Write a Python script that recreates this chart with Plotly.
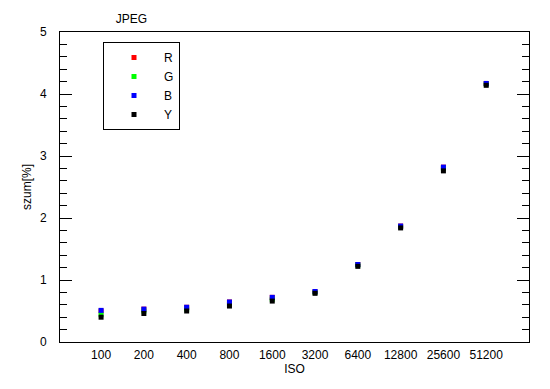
import plotly.graph_objects as go

iso_labels = ["100", "200", "400", "800", "1600", "3200", "6400", "12800", "25600", "51200"]
R = [0.50, 0.53, 0.56, 0.645, 0.72, 0.81, 1.25, 1.87, 2.82, 4.17]
G = [0.44, 0.50, 0.53, 0.61, 0.69, 0.80, 1.24, 1.86, 2.80, 4.16]
B = [0.51, 0.53, 0.56, 0.645, 0.72, 0.815, 1.25, 1.87, 2.82, 4.17]
Y = [0.40, 0.46, 0.50, 0.58, 0.66, 0.785, 1.22, 1.84, 2.76, 4.14]

series = [("R", R, "#ff0000"), ("G", G, "#00ff00"), ("B", B, "#0000ff"), ("Y", Y, "#000000")]
xs = list(range(len(iso_labels)))

fig = go.Figure()
for name, vals, col in series:
    fig.add_trace(go.Scatter(x=xs, y=vals, mode="markers", name=name,
                             marker=dict(symbol="square", size=5, color=col, line=dict(width=0))))

# page body has an 8px default margin, so the figure is sized/offset to compensate
W, H, OFF = 542, 381, 8
font = dict(family="Liberation Sans, Arial, sans-serif", size=12, color="black")
fig.update_layout(
    width=W, height=H,
    margin=dict(l=60 - OFF, r=21, t=32 - OFF, b=47),
    plot_bgcolor="white", paper_bgcolor="white",
    font=font,
    title=dict(text="JPEG", x=(131.5 - OFF) / W, xanchor="center", xref="container",
               y=1 - (18.5 - OFF) / H, yanchor="middle", yref="container", font=font),
    showlegend=True,
    legend=dict(x=(103 - 60) / 469, y=(342 - 86) / 310, xanchor="left", yanchor="middle",
                bordercolor="black", borderwidth=1, bgcolor="white",
                font=font, itemwidth=50, entrywidth=70, tracegroupgap=0),
    xaxis=dict(range=[-0.96, 10], tickmode="array", tickvals=xs, ticktext=iso_labels,
               showgrid=False, zeroline=False, showline=True, linecolor="black", linewidth=1,
               mirror=True, ticks="", automargin=False, ticklabelstandoff=2,
               title=dict(text="ISO", standoff=3, font=font)),
    yaxis=dict(range=[0, 5], dtick=1, showgrid=False, zeroline=False, showline=True,
               linecolor="black", linewidth=1, mirror="ticks", ticks="inside", ticklen=12,
               tickcolor="black", ticklabelstandoff=10, automargin=False,
               minor=dict(dtick=0.2, ticks="inside", ticklen=7, tickcolor="black", showgrid=False),
               title=dict(text="szum[%]", standoff=5, font=font)),
)
fig.write_html("out.html")
